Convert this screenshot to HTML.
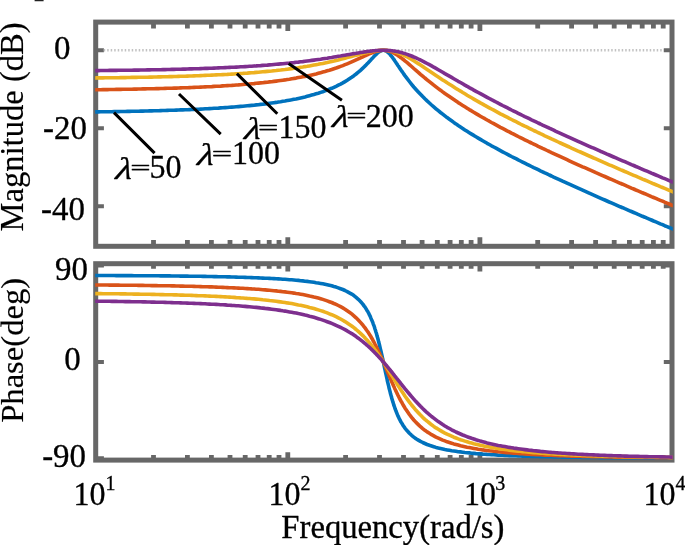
<!DOCTYPE html>
<html lang="en"><head><meta charset="utf-8"><title>Bode diagram</title>
<style>
html,body{margin:0;padding:0;background:#fff;}
body{width:685px;height:545px;overflow:hidden;}
svg{display:block;will-change:transform;}
.t{font-family:"Liberation Serif","DejaVu Serif",serif;font-size:32px;fill:#000;stroke:#000;stroke-width:0.32px;stroke-linejoin:round;}
.t .e{stroke-width:0.6px;}
.t .r{stroke-width:0.15px;}
.t .i{font-style:italic;}
.t .s{font-size:20px;}
</style></head><body>
<svg width="685" height="545" viewBox="0 0 685 545">
<defs><clipPath id="cm"><rect x="95.2" y="22.1" width="577.6" height="224.2"/></clipPath>
<clipPath id="cp"><rect x="95.2" y="263.7" width="577.6" height="196.9"/></clipPath></defs>
<path d="M153.5,22.1 v6.3 M153.5,246.3 v-6.3 M187.4,22.1 v6.3 M187.4,246.3 v-6.3 M211.4,22.1 v6.3 M211.4,246.3 v-6.3 M230.0,22.1 v6.3 M230.0,246.3 v-6.3 M245.2,22.1 v6.3 M245.2,246.3 v-6.3 M258.0,22.1 v6.3 M258.0,246.3 v-6.3 M269.2,22.1 v6.3 M269.2,246.3 v-6.3 M279.0,22.1 v6.3 M279.0,246.3 v-6.3 M287.8,22.1 v9.0 M287.8,246.3 v-9.0 M345.6,22.1 v6.3 M345.6,246.3 v-6.3 M379.5,22.1 v6.3 M379.5,246.3 v-6.3 M403.5,22.1 v6.3 M403.5,246.3 v-6.3 M422.1,22.1 v6.3 M422.1,246.3 v-6.3 M437.3,22.1 v6.3 M437.3,246.3 v-6.3 M450.1,22.1 v6.3 M450.1,246.3 v-6.3 M461.3,22.1 v6.3 M461.3,246.3 v-6.3 M471.1,22.1 v6.3 M471.1,246.3 v-6.3 M479.9,22.1 v9.0 M479.9,246.3 v-9.0 M537.7,22.1 v6.3 M537.7,246.3 v-6.3 M571.6,22.1 v6.3 M571.6,246.3 v-6.3 M595.6,22.1 v6.3 M595.6,246.3 v-6.3 M614.2,22.1 v6.3 M614.2,246.3 v-6.3 M629.4,22.1 v6.3 M629.4,246.3 v-6.3 M642.2,22.1 v6.3 M642.2,246.3 v-6.3 M653.4,22.1 v6.3 M653.4,246.3 v-6.3 M663.2,22.1 v6.3 M663.2,246.3 v-6.3" stroke="#676767" stroke-width="4.8" fill="none"/>
<path d="M153.5,263.7 v5.0 M153.5,460.1 v-5.0 M187.4,263.7 v5.0 M187.4,460.1 v-5.0 M211.4,263.7 v5.0 M211.4,460.1 v-5.0 M230.0,263.7 v5.0 M230.0,460.1 v-5.0 M245.2,263.7 v5.0 M245.2,460.1 v-5.0 M258.0,263.7 v5.0 M258.0,460.1 v-5.0 M269.2,263.7 v5.0 M269.2,460.1 v-5.0 M279.0,263.7 v5.0 M279.0,460.1 v-5.0 M287.8,263.7 v7.8 M287.8,460.1 v-7.8 M345.6,263.7 v5.0 M345.6,460.1 v-5.0 M379.5,263.7 v5.0 M379.5,460.1 v-5.0 M403.5,263.7 v5.0 M403.5,460.1 v-5.0 M422.1,263.7 v5.0 M422.1,460.1 v-5.0 M437.3,263.7 v5.0 M437.3,460.1 v-5.0 M450.1,263.7 v5.0 M450.1,460.1 v-5.0 M461.3,263.7 v5.0 M461.3,460.1 v-5.0 M471.1,263.7 v5.0 M471.1,460.1 v-5.0 M479.9,263.7 v7.8 M479.9,460.1 v-7.8 M537.7,263.7 v5.0 M537.7,460.1 v-5.0 M571.6,263.7 v5.0 M571.6,460.1 v-5.0 M595.6,263.7 v5.0 M595.6,460.1 v-5.0 M614.2,263.7 v5.0 M614.2,460.1 v-5.0 M629.4,263.7 v5.0 M629.4,460.1 v-5.0 M642.2,263.7 v5.0 M642.2,460.1 v-5.0 M653.4,263.7 v5.0 M653.4,460.1 v-5.0 M663.2,263.7 v5.0 M663.2,460.1 v-5.0" stroke="#676767" stroke-width="4.8" fill="none"/>
<path d="M95.7,50.3 h8.2 M672.0,50.3 h-8.2 M95.7,128.3 h8.2 M672.0,128.3 h-8.2 M95.7,206.3 h8.2 M672.0,206.3 h-8.2 M95.7,265.5 h8.2 M672.0,265.5 h-8.2 M95.7,361.9 h8.2 M672.0,361.9 h-8.2 M95.7,458.3 h8.2 M672.0,458.3 h-8.2" stroke="#676767" stroke-width="4" fill="none"/>
<path d="M103.7,50.3 H664.0" stroke="#c2c2c2" stroke-width="2.6" stroke-dasharray="1.5 2" fill="none"/>
<rect x="95.7" y="22.1" width="576.3" height="224.2" fill="none" stroke="#676767" stroke-width="5.0"/>
<rect x="95.7" y="263.7" width="576.3" height="196.4" fill="none" stroke="#676767" stroke-width="5.0"/>
<g clip-path="url(#cm)" fill="none" stroke-width="3.6" stroke-linejoin="round">
<path d="M91.9,112.0 L94.1,111.9 L96.3,111.9 L98.5,111.9 L100.7,111.8 L103.0,111.8 L105.2,111.8 L107.4,111.8 L109.6,111.7 L111.8,111.7 L114.1,111.6 L116.3,111.6 L118.5,111.6 L120.7,111.5 L122.9,111.5 L125.2,111.5 L127.4,111.4 L129.6,111.4 L131.8,111.3 L134.0,111.3 L136.3,111.2 L138.5,111.2 L140.7,111.1 L142.9,111.1 L145.1,111.0 L147.4,111.0 L149.6,110.9 L151.8,110.9 L154.0,110.8 L156.3,110.7 L158.5,110.7 L160.7,110.6 L162.9,110.5 L165.1,110.5 L167.4,110.4 L169.6,110.3 L171.8,110.3 L174.0,110.2 L176.2,110.1 L178.5,110.0 L180.7,109.9 L182.9,109.9 L185.1,109.8 L187.3,109.7 L189.6,109.6 L191.8,109.5 L194.0,109.4 L196.2,109.3 L198.4,109.2 L200.7,109.1 L202.9,109.0 L205.1,108.8 L207.3,108.7 L209.5,108.6 L211.8,108.5 L214.0,108.3 L216.2,108.2 L218.4,108.1 L220.6,107.9 L222.9,107.8 L225.1,107.6 L227.3,107.5 L229.5,107.3 L231.7,107.1 L234.0,107.0 L236.2,106.8 L238.4,106.6 L240.6,106.4 L242.9,106.2 L245.1,106.0 L247.3,105.8 L249.5,105.6 L251.7,105.4 L254.0,105.2 L256.2,104.9 L258.4,104.7 L260.6,104.4 L262.8,104.2 L265.1,103.9 L267.3,103.6 L269.5,103.3 L271.7,103.0 L273.9,102.7 L276.2,102.4 L278.4,102.0 L280.6,101.7 L282.8,101.3 L285.0,101.0 L287.3,100.6 L289.5,100.2 L291.7,99.8 L293.9,99.3 L296.1,98.9 L298.4,98.4 L300.6,97.9 L302.8,97.4 L305.0,96.9 L307.2,96.3 L309.5,95.7 L311.7,95.1 L313.9,94.5 L316.1,93.8 L318.3,93.2 L320.6,92.4 L322.8,91.7 L325.0,90.9 L327.2,90.1 L329.4,89.2 L331.7,88.3 L333.9,87.3 L336.1,86.3 L338.3,85.2 L340.6,84.1 L342.8,82.9 L345.0,81.6 L347.2,80.3 L349.4,78.8 L351.7,77.3 L353.9,75.7 L356.1,74.0 L358.3,72.2 L360.5,70.3 L362.8,68.2 L364.2,66.8 L364.9,66.2 L365.0,66.1 L365.5,65.5 L366.1,64.9 L366.7,64.3 L367.2,63.8 L367.4,63.6 L368.0,63.0 L368.6,62.3 L369.2,61.7 L369.4,61.4 L369.8,61.0 L370.4,60.4 L370.9,59.8 L371.5,59.1 L371.6,59.0 L372.1,58.5 L372.7,57.9 L373.2,57.3 L373.8,56.7 L373.9,56.6 L374.4,56.1 L374.9,55.5 L375.5,54.9 L376.0,54.4 L376.1,54.4 L376.6,53.9 L377.1,53.4 L377.7,52.9 L378.2,52.5 L378.3,52.4 L378.7,52.1 L379.3,51.7 L379.8,51.4 L380.3,51.1 L380.5,51.0 L380.9,50.9 L381.4,50.6 L381.9,50.5 L382.4,50.4 L382.7,50.3 L382.9,50.3 L383.4,50.3 L383.9,50.3 L384.4,50.4 L384.9,50.5 L385.0,50.6 L385.4,50.7 L385.9,51.0 L386.4,51.2 L386.9,51.5 L387.2,51.8 L387.3,51.9 L387.8,52.3 L388.3,52.7 L388.8,53.1 L389.2,53.6 L389.4,53.8 L389.7,54.1 L390.2,54.6 L390.6,55.2 L391.1,55.7 L391.6,56.3 L391.6,56.4 L392.0,56.9 L392.5,57.5 L392.9,58.1 L393.4,58.8 L393.8,59.4 L393.8,59.4 L394.3,60.0 L394.7,60.7 L395.1,61.3 L395.6,62.0 L396.0,62.6 L396.1,62.7 L396.4,63.2 L396.9,63.9 L397.3,64.5 L397.7,65.2 L398.1,65.8 L398.3,66.0 L398.6,66.4 L399.0,67.0 L399.4,67.7 L399.8,68.3 L400.2,68.9 L400.5,69.3 L400.6,69.5 L401.0,70.1 L401.5,70.7 L401.9,71.3 L402.3,71.9 L402.7,72.4 L402.7,72.5 L403.1,73.0 L403.5,73.6 L404.9,75.6 L407.2,78.6 L409.4,81.5 L411.6,84.3 L413.8,87.0 L416.0,89.5 L418.3,92.0 L420.5,94.3 L422.7,96.6 L424.9,98.8 L427.1,100.9 L429.4,103.0 L431.6,105.0 L433.8,106.9 L436.0,108.8 L438.3,110.7 L440.5,112.5 L442.7,114.2 L444.9,115.9 L447.1,117.6 L449.4,119.2 L451.6,120.8 L453.8,122.4 L456.0,123.9 L458.2,125.5 L460.5,127.0 L462.7,128.4 L464.9,129.9 L467.1,131.3 L469.3,132.7 L471.6,134.1 L473.8,135.4 L476.0,136.8 L478.2,138.1 L480.4,139.4 L482.7,140.7 L484.9,142.0 L487.1,143.3 L489.3,144.5 L491.5,145.8 L493.8,147.0 L496.0,148.2 L498.2,149.4 L500.4,150.6 L502.6,151.8 L504.9,153.0 L507.1,154.1 L509.3,155.3 L511.5,156.5 L513.7,157.6 L516.0,158.7 L518.2,159.9 L520.4,161.0 L522.6,162.1 L524.8,163.2 L527.1,164.3 L529.3,165.4 L531.5,166.5 L533.7,167.6 L536.0,168.6 L538.2,169.7 L540.4,170.8 L542.6,171.8 L544.8,172.9 L547.1,173.9 L549.3,175.0 L551.5,176.0 L553.7,177.1 L555.9,178.1 L558.2,179.1 L560.4,180.1 L562.6,181.2 L564.8,182.2 L567.0,183.2 L569.3,184.2 L571.5,185.2 L573.7,186.2 L575.9,187.2 L578.1,188.2 L580.4,189.2 L582.6,190.2 L584.8,191.2 L587.0,192.2 L589.2,193.2 L591.5,194.2 L593.7,195.1 L595.9,196.1 L598.1,197.1 L600.3,198.1 L602.6,199.1 L604.8,200.0 L607.0,201.0 L609.2,202.0 L611.4,202.9 L613.7,203.9 L615.9,204.8 L618.1,205.8 L620.3,206.8 L622.6,207.7 L624.8,208.7 L627.0,209.6 L629.2,210.6 L631.4,211.5 L633.7,212.5 L635.9,213.4 L638.1,214.4 L640.3,215.3 L642.5,216.3 L644.8,217.2 L647.0,218.2 L649.2,219.1 L651.4,220.0 L653.6,221.0 L655.9,221.9 L658.1,222.8 L660.3,223.8 L662.5,224.7 L664.7,225.7 L667.0,226.6 L669.2,227.5 L671.4,228.4 L673.6,229.4 L675.8,230.3" stroke="#0072BD"/>
<path d="M91.9,89.8 L94.1,89.7 L96.3,89.7 L98.5,89.7 L100.7,89.7 L103.0,89.6 L105.2,89.6 L107.4,89.6 L109.6,89.5 L111.8,89.5 L114.1,89.5 L116.3,89.4 L118.5,89.4 L120.7,89.4 L122.9,89.3 L125.2,89.3 L127.4,89.3 L129.6,89.2 L131.8,89.2 L134.0,89.1 L136.3,89.1 L138.5,89.0 L140.7,89.0 L142.9,88.9 L145.1,88.9 L147.4,88.8 L149.6,88.8 L151.8,88.7 L154.0,88.7 L156.3,88.6 L158.5,88.6 L160.7,88.5 L162.9,88.5 L165.1,88.4 L167.4,88.3 L169.6,88.3 L171.8,88.2 L174.0,88.1 L176.2,88.1 L178.5,88.0 L180.7,87.9 L182.9,87.8 L185.1,87.7 L187.3,87.7 L189.6,87.6 L191.8,87.5 L194.0,87.4 L196.2,87.3 L198.4,87.2 L200.7,87.1 L202.9,87.0 L205.1,86.9 L207.3,86.8 L209.5,86.7 L211.8,86.6 L214.0,86.4 L216.2,86.3 L218.4,86.2 L220.6,86.1 L222.9,85.9 L225.1,85.8 L227.3,85.6 L229.5,85.5 L231.7,85.4 L234.0,85.2 L236.2,85.0 L238.4,84.9 L240.6,84.7 L242.9,84.5 L245.1,84.3 L247.3,84.2 L249.5,84.0 L251.7,83.8 L254.0,83.6 L256.2,83.3 L258.4,83.1 L260.6,82.9 L262.8,82.7 L265.1,82.4 L267.3,82.2 L269.5,81.9 L271.7,81.7 L273.9,81.4 L276.2,81.1 L278.4,80.8 L280.6,80.5 L282.8,80.2 L285.0,79.9 L287.3,79.5 L289.5,79.2 L291.7,78.8 L293.9,78.4 L296.1,78.1 L298.4,77.6 L300.6,77.2 L302.8,76.8 L305.0,76.4 L307.2,75.9 L309.5,75.4 L311.7,74.9 L313.9,74.4 L316.1,73.9 L318.3,73.3 L320.6,72.7 L322.8,72.1 L325.0,71.5 L327.2,70.8 L329.4,70.2 L331.7,69.5 L333.9,68.7 L336.1,68.0 L338.3,67.2 L340.6,66.4 L342.8,65.6 L345.0,64.7 L347.2,63.8 L349.4,62.9 L351.7,61.9 L353.9,60.9 L356.1,59.9 L358.3,58.9 L360.5,57.9 L362.8,56.8 L364.2,56.1 L364.9,55.8 L365.0,55.8 L365.5,55.6 L366.1,55.3 L366.7,55.0 L367.2,54.8 L367.4,54.7 L368.0,54.5 L368.6,54.2 L369.2,53.9 L369.4,53.8 L369.8,53.7 L370.4,53.4 L370.9,53.2 L371.5,53.0 L371.6,52.9 L372.1,52.8 L372.7,52.5 L373.2,52.3 L373.8,52.1 L373.9,52.1 L374.4,51.9 L374.9,51.8 L375.5,51.6 L376.0,51.4 L376.1,51.4 L376.6,51.3 L377.1,51.1 L377.7,51.0 L378.2,50.9 L378.3,50.9 L378.7,50.8 L379.3,50.7 L379.8,50.6 L380.3,50.5 L380.5,50.5 L380.9,50.4 L381.4,50.4 L381.9,50.3 L382.4,50.3 L382.7,50.3 L382.9,50.3 L383.4,50.3 L383.9,50.3 L384.4,50.3 L384.9,50.4 L385.0,50.4 L385.4,50.4 L385.9,50.5 L386.4,50.5 L386.9,50.6 L387.2,50.7 L387.3,50.7 L387.8,50.8 L388.3,50.9 L388.8,51.1 L389.2,51.2 L389.4,51.2 L389.7,51.3 L390.2,51.5 L390.6,51.7 L391.1,51.8 L391.6,52.0 L391.6,52.0 L392.0,52.2 L392.5,52.4 L392.9,52.6 L393.4,52.8 L393.8,53.1 L393.8,53.1 L394.3,53.3 L394.7,53.5 L395.1,53.8 L395.6,54.0 L396.0,54.3 L396.1,54.3 L396.4,54.6 L396.9,54.8 L397.3,55.1 L397.7,55.4 L398.1,55.7 L398.3,55.8 L398.6,56.0 L399.0,56.3 L399.4,56.6 L399.8,56.9 L400.2,57.2 L400.5,57.4 L400.6,57.5 L401.0,57.8 L401.5,58.1 L401.9,58.4 L402.3,58.7 L402.7,59.0 L402.7,59.1 L403.1,59.3 L403.5,59.7 L404.9,60.9 L407.2,62.7 L409.4,64.6 L411.6,66.5 L413.8,68.5 L416.0,70.4 L418.3,72.3 L420.5,74.3 L422.7,76.1 L424.9,78.0 L427.1,79.8 L429.4,81.6 L431.6,83.4 L433.8,85.2 L436.0,86.9 L438.3,88.6 L440.5,90.2 L442.7,91.9 L444.9,93.5 L447.1,95.0 L449.4,96.6 L451.6,98.1 L453.8,99.6 L456.0,101.1 L458.2,102.6 L460.5,104.0 L462.7,105.4 L464.9,106.8 L467.1,108.2 L469.3,109.6 L471.6,110.9 L473.8,112.3 L476.0,113.6 L478.2,114.9 L480.4,116.2 L482.7,117.5 L484.9,118.7 L487.1,120.0 L489.3,121.2 L491.5,122.5 L493.8,123.7 L496.0,124.9 L498.2,126.1 L500.4,127.3 L502.6,128.4 L504.9,129.6 L507.1,130.8 L509.3,131.9 L511.5,133.1 L513.7,134.2 L516.0,135.3 L518.2,136.5 L520.4,137.6 L522.6,138.7 L524.8,139.8 L527.1,140.9 L529.3,142.0 L531.5,143.0 L533.7,144.1 L536.0,145.2 L538.2,146.3 L540.4,147.3 L542.6,148.4 L544.8,149.4 L547.1,150.5 L549.3,151.5 L551.5,152.6 L553.7,153.6 L555.9,154.6 L558.2,155.7 L560.4,156.7 L562.6,157.7 L564.8,158.7 L567.0,159.7 L569.3,160.8 L571.5,161.8 L573.7,162.8 L575.9,163.8 L578.1,164.8 L580.4,165.8 L582.6,166.8 L584.8,167.7 L587.0,168.7 L589.2,169.7 L591.5,170.7 L593.7,171.7 L595.9,172.7 L598.1,173.6 L600.3,174.6 L602.6,175.6 L604.8,176.5 L607.0,177.5 L609.2,178.5 L611.4,179.4 L613.7,180.4 L615.9,181.4 L618.1,182.3 L620.3,183.3 L622.6,184.2 L624.8,185.2 L627.0,186.2 L629.2,187.1 L631.4,188.1 L633.7,189.0 L635.9,190.0 L638.1,190.9 L640.3,191.8 L642.5,192.8 L644.8,193.7 L647.0,194.7 L649.2,195.6 L651.4,196.6 L653.6,197.5 L655.9,198.4 L658.1,199.4 L660.3,200.3 L662.5,201.2 L664.7,202.2 L667.0,203.1 L669.2,204.0 L671.4,205.0 L673.6,205.9 L675.8,206.8" stroke="#D95319"/>
<path d="M91.9,78.0 L94.1,78.0 L96.3,77.9 L98.5,77.9 L100.7,77.9 L103.0,77.9 L105.2,77.8 L107.4,77.8 L109.6,77.8 L111.8,77.7 L114.1,77.7 L116.3,77.7 L118.5,77.7 L120.7,77.6 L122.9,77.6 L125.2,77.6 L127.4,77.5 L129.6,77.5 L131.8,77.4 L134.0,77.4 L136.3,77.4 L138.5,77.3 L140.7,77.3 L142.9,77.2 L145.1,77.2 L147.4,77.2 L149.6,77.1 L151.8,77.1 L154.0,77.0 L156.3,77.0 L158.5,76.9 L160.7,76.9 L162.9,76.8 L165.1,76.8 L167.4,76.7 L169.6,76.6 L171.8,76.6 L174.0,76.5 L176.2,76.5 L178.5,76.4 L180.7,76.3 L182.9,76.3 L185.1,76.2 L187.3,76.1 L189.6,76.0 L191.8,76.0 L194.0,75.9 L196.2,75.8 L198.4,75.7 L200.7,75.6 L202.9,75.5 L205.1,75.4 L207.3,75.3 L209.5,75.2 L211.8,75.1 L214.0,75.0 L216.2,74.9 L218.4,74.8 L220.6,74.7 L222.9,74.6 L225.1,74.5 L227.3,74.4 L229.5,74.2 L231.7,74.1 L234.0,74.0 L236.2,73.8 L238.4,73.7 L240.6,73.5 L242.9,73.4 L245.1,73.2 L247.3,73.1 L249.5,72.9 L251.7,72.7 L254.0,72.6 L256.2,72.4 L258.4,72.2 L260.6,72.0 L262.8,71.8 L265.1,71.6 L267.3,71.4 L269.5,71.2 L271.7,71.0 L273.9,70.7 L276.2,70.5 L278.4,70.2 L280.6,70.0 L282.8,69.7 L285.0,69.5 L287.3,69.2 L289.5,68.9 L291.7,68.6 L293.9,68.3 L296.1,68.0 L298.4,67.7 L300.6,67.3 L302.8,67.0 L305.0,66.6 L307.2,66.3 L309.5,65.9 L311.7,65.5 L313.9,65.1 L316.1,64.7 L318.3,64.3 L320.6,63.8 L322.8,63.4 L325.0,62.9 L327.2,62.5 L329.4,62.0 L331.7,61.5 L333.9,61.0 L336.1,60.4 L338.3,59.9 L340.6,59.3 L342.8,58.8 L345.0,58.2 L347.2,57.6 L349.4,57.0 L351.7,56.4 L353.9,55.8 L356.1,55.3 L358.3,54.7 L360.5,54.1 L362.8,53.5 L364.2,53.1 L364.9,53.0 L365.0,53.0 L365.5,52.8 L366.1,52.7 L366.7,52.6 L367.2,52.4 L367.4,52.4 L368.0,52.3 L368.6,52.1 L369.2,52.0 L369.4,52.0 L369.8,51.9 L370.4,51.8 L370.9,51.7 L371.5,51.5 L371.6,51.5 L372.1,51.4 L372.7,51.3 L373.2,51.2 L373.8,51.1 L373.9,51.1 L374.4,51.0 L374.9,51.0 L375.5,50.9 L376.0,50.8 L376.1,50.8 L376.6,50.7 L377.1,50.7 L377.7,50.6 L378.2,50.6 L378.3,50.5 L378.7,50.5 L379.3,50.5 L379.8,50.4 L380.3,50.4 L380.5,50.4 L380.9,50.4 L381.4,50.3 L381.9,50.3 L382.4,50.3 L382.7,50.3 L382.9,50.3 L383.4,50.3 L383.9,50.3 L384.4,50.3 L384.9,50.3 L385.0,50.3 L385.4,50.3 L385.9,50.4 L386.4,50.4 L386.9,50.4 L387.2,50.5 L387.3,50.5 L387.8,50.5 L388.3,50.6 L388.8,50.6 L389.2,50.7 L389.4,50.7 L389.7,50.8 L390.2,50.8 L390.6,50.9 L391.1,51.0 L391.6,51.1 L391.6,51.1 L392.0,51.2 L392.5,51.3 L392.9,51.4 L393.4,51.5 L393.8,51.6 L393.8,51.6 L394.3,51.7 L394.7,51.8 L395.1,51.9 L395.6,52.1 L396.0,52.2 L396.1,52.2 L396.4,52.3 L396.9,52.5 L397.3,52.6 L397.7,52.8 L398.1,52.9 L398.3,53.0 L398.6,53.1 L399.0,53.2 L399.4,53.4 L399.8,53.5 L400.2,53.7 L400.5,53.8 L400.6,53.9 L401.0,54.0 L401.5,54.2 L401.9,54.4 L402.3,54.6 L402.7,54.7 L402.7,54.8 L403.1,54.9 L403.5,55.1 L404.9,55.8 L407.2,57.0 L409.4,58.2 L411.6,59.4 L413.8,60.8 L416.0,62.2 L418.3,63.6 L420.5,65.0 L422.7,66.5 L424.9,68.0 L427.1,69.4 L429.4,70.9 L431.6,72.4 L433.8,73.9 L436.0,75.4 L438.3,76.9 L440.5,78.4 L442.7,79.9 L444.9,81.3 L447.1,82.8 L449.4,84.2 L451.6,85.6 L453.8,87.0 L456.0,88.4 L458.2,89.8 L460.5,91.1 L462.7,92.5 L464.9,93.8 L467.1,95.2 L469.3,96.5 L471.6,97.8 L473.8,99.1 L476.0,100.4 L478.2,101.6 L480.4,102.9 L482.7,104.1 L484.9,105.4 L487.1,106.6 L489.3,107.8 L491.5,109.0 L493.8,110.2 L496.0,111.4 L498.2,112.6 L500.4,113.8 L502.6,114.9 L504.9,116.1 L507.1,117.2 L509.3,118.4 L511.5,119.5 L513.7,120.6 L516.0,121.7 L518.2,122.8 L520.4,124.0 L522.6,125.1 L524.8,126.2 L527.1,127.2 L529.3,128.3 L531.5,129.4 L533.7,130.5 L536.0,131.5 L538.2,132.6 L540.4,133.7 L542.6,134.7 L544.8,135.8 L547.1,136.8 L549.3,137.8 L551.5,138.9 L553.7,139.9 L555.9,140.9 L558.2,142.0 L560.4,143.0 L562.6,144.0 L564.8,145.0 L567.0,146.0 L569.3,147.0 L571.5,148.1 L573.7,149.1 L575.9,150.1 L578.1,151.1 L580.4,152.0 L582.6,153.0 L584.8,154.0 L587.0,155.0 L589.2,156.0 L591.5,157.0 L593.7,158.0 L595.9,158.9 L598.1,159.9 L600.3,160.9 L602.6,161.9 L604.8,162.8 L607.0,163.8 L609.2,164.8 L611.4,165.7 L613.7,166.7 L615.9,167.6 L618.1,168.6 L620.3,169.6 L622.6,170.5 L624.8,171.5 L627.0,172.4 L629.2,173.4 L631.4,174.3 L633.7,175.3 L635.9,176.2 L638.1,177.2 L640.3,178.1 L642.5,179.1 L644.8,180.0 L647.0,180.9 L649.2,181.9 L651.4,182.8 L653.6,183.8 L655.9,184.7 L658.1,185.6 L660.3,186.6 L662.5,187.5 L664.7,188.4 L667.0,189.4 L669.2,190.3 L671.4,191.2 L673.6,192.2 L675.8,193.1" stroke="#EDB120"/>
<path d="M91.9,70.6 L94.1,70.6 L96.3,70.6 L98.5,70.6 L100.7,70.5 L103.0,70.5 L105.2,70.5 L107.4,70.5 L109.6,70.4 L111.8,70.4 L114.1,70.4 L116.3,70.4 L118.5,70.3 L120.7,70.3 L122.9,70.3 L125.2,70.3 L127.4,70.2 L129.6,70.2 L131.8,70.2 L134.0,70.1 L136.3,70.1 L138.5,70.1 L140.7,70.0 L142.9,70.0 L145.1,70.0 L147.4,69.9 L149.6,69.9 L151.8,69.8 L154.0,69.8 L156.3,69.8 L158.5,69.7 L160.7,69.7 L162.9,69.6 L165.1,69.6 L167.4,69.5 L169.6,69.5 L171.8,69.4 L174.0,69.4 L176.2,69.3 L178.5,69.3 L180.7,69.2 L182.9,69.1 L185.1,69.1 L187.3,69.0 L189.6,68.9 L191.8,68.9 L194.0,68.8 L196.2,68.7 L198.4,68.7 L200.7,68.6 L202.9,68.5 L205.1,68.4 L207.3,68.4 L209.5,68.3 L211.8,68.2 L214.0,68.1 L216.2,68.0 L218.4,67.9 L220.6,67.8 L222.9,67.7 L225.1,67.6 L227.3,67.5 L229.5,67.4 L231.7,67.3 L234.0,67.2 L236.2,67.1 L238.4,67.0 L240.6,66.8 L242.9,66.7 L245.1,66.6 L247.3,66.5 L249.5,66.3 L251.7,66.2 L254.0,66.0 L256.2,65.9 L258.4,65.7 L260.6,65.6 L262.8,65.4 L265.1,65.2 L267.3,65.1 L269.5,64.9 L271.7,64.7 L273.9,64.5 L276.2,64.3 L278.4,64.1 L280.6,63.9 L282.8,63.7 L285.0,63.5 L287.3,63.3 L289.5,63.1 L291.7,62.8 L293.9,62.6 L296.1,62.3 L298.4,62.1 L300.6,61.8 L302.8,61.6 L305.0,61.3 L307.2,61.0 L309.5,60.7 L311.7,60.4 L313.9,60.1 L316.1,59.8 L318.3,59.5 L320.6,59.2 L322.8,58.8 L325.0,58.5 L327.2,58.2 L329.4,57.8 L331.7,57.5 L333.9,57.1 L336.1,56.7 L338.3,56.3 L340.6,56.0 L342.8,55.6 L345.0,55.2 L347.2,54.8 L349.4,54.4 L351.7,54.0 L353.9,53.6 L356.1,53.3 L358.3,52.9 L360.5,52.5 L362.8,52.2 L364.2,52.0 L364.9,51.9 L365.0,51.9 L365.5,51.8 L366.1,51.7 L366.7,51.6 L367.2,51.5 L367.4,51.5 L368.0,51.4 L368.6,51.4 L369.2,51.3 L369.4,51.3 L369.8,51.2 L370.4,51.1 L370.9,51.1 L371.5,51.0 L371.6,51.0 L372.1,50.9 L372.7,50.9 L373.2,50.8 L373.8,50.8 L373.9,50.8 L374.4,50.7 L374.9,50.7 L375.5,50.6 L376.0,50.6 L376.1,50.6 L376.6,50.5 L377.1,50.5 L377.7,50.5 L378.2,50.4 L378.3,50.4 L378.7,50.4 L379.3,50.4 L379.8,50.4 L380.3,50.4 L380.5,50.3 L380.9,50.3 L381.4,50.3 L381.9,50.3 L382.4,50.3 L382.7,50.3 L382.9,50.3 L383.4,50.3 L383.9,50.3 L384.4,50.3 L384.9,50.3 L385.0,50.3 L385.4,50.3 L385.9,50.3 L386.4,50.4 L386.9,50.4 L387.2,50.4 L387.3,50.4 L387.8,50.4 L388.3,50.5 L388.8,50.5 L389.2,50.5 L389.4,50.5 L389.7,50.6 L390.2,50.6 L390.6,50.6 L391.1,50.7 L391.6,50.7 L391.6,50.8 L392.0,50.8 L392.5,50.9 L392.9,50.9 L393.4,51.0 L393.8,51.0 L393.8,51.0 L394.3,51.1 L394.7,51.2 L395.1,51.2 L395.6,51.3 L396.0,51.4 L396.1,51.4 L396.4,51.5 L396.9,51.6 L397.3,51.6 L397.7,51.7 L398.1,51.8 L398.3,51.8 L398.6,51.9 L399.0,52.0 L399.4,52.1 L399.8,52.2 L400.2,52.3 L400.5,52.4 L400.6,52.4 L401.0,52.5 L401.5,52.6 L401.9,52.7 L402.3,52.8 L402.7,52.9 L402.7,53.0 L403.1,53.0 L403.5,53.2 L404.9,53.6 L407.2,54.4 L409.4,55.2 L411.6,56.0 L413.8,57.0 L416.0,57.9 L418.3,59.0 L420.5,60.0 L422.7,61.2 L424.9,62.3 L427.1,63.5 L429.4,64.7 L431.6,65.9 L433.8,67.2 L436.0,68.4 L438.3,69.7 L440.5,71.0 L442.7,72.3 L444.9,73.6 L447.1,74.8 L449.4,76.1 L451.6,77.4 L453.8,78.7 L456.0,80.0 L458.2,81.3 L460.5,82.5 L462.7,83.8 L464.9,85.1 L467.1,86.3 L469.3,87.6 L471.6,88.8 L473.8,90.1 L476.0,91.3 L478.2,92.5 L480.4,93.7 L482.7,94.9 L484.9,96.1 L487.1,97.3 L489.3,98.5 L491.5,99.7 L493.8,100.8 L496.0,102.0 L498.2,103.2 L500.4,104.3 L502.6,105.5 L504.9,106.6 L507.1,107.7 L509.3,108.8 L511.5,110.0 L513.7,111.1 L516.0,112.2 L518.2,113.3 L520.4,114.4 L522.6,115.5 L524.8,116.6 L527.1,117.6 L529.3,118.7 L531.5,119.8 L533.7,120.8 L536.0,121.9 L538.2,123.0 L540.4,124.0 L542.6,125.1 L544.8,126.1 L547.1,127.1 L549.3,128.2 L551.5,129.2 L553.7,130.2 L555.9,131.3 L558.2,132.3 L560.4,133.3 L562.6,134.3 L564.8,135.3 L567.0,136.3 L569.3,137.3 L571.5,138.3 L573.7,139.3 L575.9,140.3 L578.1,141.3 L580.4,142.3 L582.6,143.3 L584.8,144.3 L587.0,145.3 L589.2,146.3 L591.5,147.3 L593.7,148.2 L595.9,149.2 L598.1,150.2 L600.3,151.2 L602.6,152.1 L604.8,153.1 L607.0,154.1 L609.2,155.0 L611.4,156.0 L613.7,157.0 L615.9,157.9 L618.1,158.9 L620.3,159.8 L622.6,160.8 L624.8,161.7 L627.0,162.7 L629.2,163.6 L631.4,164.6 L633.7,165.5 L635.9,166.5 L638.1,167.4 L640.3,168.4 L642.5,169.3 L644.8,170.3 L647.0,171.2 L649.2,172.1 L651.4,173.1 L653.6,174.0 L655.9,175.0 L658.1,175.9 L660.3,176.8 L662.5,177.8 L664.7,178.7 L667.0,179.6 L669.2,180.6 L671.4,181.5 L673.6,182.4 L675.8,183.4" stroke="#7E2F8E"/>
</g>
<g clip-path="url(#cp)" fill="none" stroke-width="3.6" stroke-linejoin="round">
<path d="M91.9,275.4 L94.1,275.5 L96.3,275.5 L98.5,275.5 L100.7,275.5 L103.0,275.5 L105.2,275.5 L107.4,275.5 L109.6,275.5 L111.8,275.5 L114.1,275.5 L116.3,275.6 L118.5,275.6 L120.7,275.6 L122.9,275.6 L125.2,275.6 L127.4,275.6 L129.6,275.6 L131.8,275.6 L134.0,275.7 L136.3,275.7 L138.5,275.7 L140.7,275.7 L142.9,275.7 L145.1,275.7 L147.4,275.7 L149.6,275.8 L151.8,275.8 L154.0,275.8 L156.3,275.8 L158.5,275.8 L160.7,275.9 L162.9,275.9 L165.1,275.9 L167.4,275.9 L169.6,275.9 L171.8,276.0 L174.0,276.0 L176.2,276.0 L178.5,276.0 L180.7,276.1 L182.9,276.1 L185.1,276.1 L187.3,276.1 L189.6,276.2 L191.8,276.2 L194.0,276.2 L196.2,276.3 L198.4,276.3 L200.7,276.3 L202.9,276.4 L205.1,276.4 L207.3,276.5 L209.5,276.5 L211.8,276.5 L214.0,276.6 L216.2,276.6 L218.4,276.7 L220.6,276.7 L222.9,276.8 L225.1,276.8 L227.3,276.9 L229.5,276.9 L231.7,277.0 L234.0,277.0 L236.2,277.1 L238.4,277.2 L240.6,277.2 L242.9,277.3 L245.1,277.4 L247.3,277.5 L249.5,277.5 L251.7,277.6 L254.0,277.7 L256.2,277.8 L258.4,277.9 L260.6,278.0 L262.8,278.1 L265.1,278.2 L267.3,278.3 L269.5,278.4 L271.7,278.5 L273.9,278.6 L276.2,278.8 L278.4,278.9 L280.6,279.0 L282.8,279.2 L285.0,279.3 L287.3,279.5 L289.5,279.7 L291.7,279.8 L293.9,280.0 L296.1,280.2 L298.4,280.4 L300.6,280.7 L302.8,280.9 L305.0,281.2 L307.2,281.4 L309.5,281.7 L311.7,282.0 L313.9,282.3 L316.1,282.7 L318.3,283.0 L320.6,283.4 L322.8,283.8 L325.0,284.3 L327.2,284.8 L329.4,285.3 L331.7,285.8 L333.9,286.5 L336.1,287.1 L338.3,287.9 L340.6,288.7 L342.8,289.5 L345.0,290.5 L347.2,291.6 L349.4,292.8 L351.7,294.1 L353.9,295.6 L356.1,297.4 L358.3,299.3 L360.5,301.5 L362.8,304.1 L364.2,306.1 L364.9,307.0 L365.0,307.1 L365.5,307.9 L366.1,308.9 L366.7,309.9 L367.2,310.7 L367.4,310.9 L368.0,312.0 L368.6,313.1 L369.2,314.3 L369.4,314.8 L369.8,315.5 L370.4,316.8 L370.9,318.1 L371.5,319.5 L371.6,319.7 L372.1,320.9 L372.7,322.3 L373.2,323.8 L373.8,325.4 L373.9,325.5 L374.4,327.0 L374.9,328.7 L375.5,330.5 L376.0,332.3 L376.1,332.4 L376.6,334.1 L377.1,336.1 L377.7,338.0 L378.2,340.0 L378.3,340.4 L378.7,342.1 L379.3,344.2 L379.8,346.4 L380.3,348.6 L380.5,349.4 L380.9,350.9 L381.4,353.1 L381.9,355.4 L382.4,357.7 L382.7,359.3 L382.9,360.1 L383.4,362.4 L383.9,364.7 L384.4,367.0 L384.9,369.3 L385.0,369.6 L385.4,371.6 L385.9,373.9 L386.4,376.1 L386.9,378.3 L387.2,379.7 L387.3,380.5 L387.8,382.6 L388.3,384.6 L388.8,386.6 L389.2,388.6 L389.4,389.2 L389.7,390.4 L390.2,392.3 L390.6,394.1 L391.1,395.8 L391.6,397.4 L391.6,397.7 L392.0,399.0 L392.5,400.6 L392.9,402.1 L393.4,403.5 L393.8,404.9 L393.8,405.0 L394.3,406.3 L394.7,407.5 L395.1,408.8 L395.6,410.0 L396.0,411.1 L396.1,411.3 L396.4,412.2 L396.9,413.3 L397.3,414.3 L397.7,415.3 L398.1,416.3 L398.3,416.6 L398.6,417.2 L399.0,418.1 L399.4,418.9 L399.8,419.7 L400.2,420.5 L400.5,421.0 L400.6,421.3 L401.0,422.0 L401.5,422.7 L401.9,423.4 L402.3,424.1 L402.7,424.7 L402.7,424.8 L403.1,425.4 L403.5,426.0 L404.9,428.1 L407.2,430.8 L409.4,433.2 L411.6,435.3 L413.8,437.1 L416.0,438.7 L418.3,440.1 L420.5,441.4 L422.7,442.5 L424.9,443.5 L427.1,444.5 L429.4,445.3 L431.6,446.0 L433.8,446.7 L436.0,447.4 L438.3,448.0 L440.5,448.5 L442.7,449.0 L444.9,449.5 L447.1,449.9 L449.4,450.3 L451.6,450.7 L453.8,451.0 L456.0,451.3 L458.2,451.7 L460.5,451.9 L462.7,452.2 L464.9,452.5 L467.1,452.7 L469.3,452.9 L471.6,453.2 L473.8,453.4 L476.0,453.6 L478.2,453.7 L480.4,453.9 L482.7,454.1 L484.9,454.2 L487.1,454.4 L489.3,454.5 L491.5,454.7 L493.8,454.8 L496.0,454.9 L498.2,455.1 L500.4,455.2 L502.6,455.3 L504.9,455.4 L507.1,455.5 L509.3,455.6 L511.5,455.7 L513.7,455.8 L516.0,455.8 L518.2,455.9 L520.4,456.0 L522.6,456.1 L524.8,456.2 L527.1,456.2 L529.3,456.3 L531.5,456.4 L533.7,456.4 L536.0,456.5 L538.2,456.5 L540.4,456.6 L542.6,456.6 L544.8,456.7 L547.1,456.7 L549.3,456.8 L551.5,456.8 L553.7,456.9 L555.9,456.9 L558.2,457.0 L560.4,457.0 L562.6,457.1 L564.8,457.1 L567.0,457.1 L569.3,457.2 L571.5,457.2 L573.7,457.2 L575.9,457.3 L578.1,457.3 L580.4,457.3 L582.6,457.4 L584.8,457.4 L587.0,457.4 L589.2,457.4 L591.5,457.5 L593.7,457.5 L595.9,457.5 L598.1,457.5 L600.3,457.6 L602.6,457.6 L604.8,457.6 L607.0,457.6 L609.2,457.6 L611.4,457.7 L613.7,457.7 L615.9,457.7 L618.1,457.7 L620.3,457.7 L622.6,457.8 L624.8,457.8 L627.0,457.8 L629.2,457.8 L631.4,457.8 L633.7,457.8 L635.9,457.8 L638.1,457.9 L640.3,457.9 L642.5,457.9 L644.8,457.9 L647.0,457.9 L649.2,457.9 L651.4,457.9 L653.6,457.9 L655.9,458.0 L658.1,458.0 L660.3,458.0 L662.5,458.0 L664.7,458.0 L667.0,458.0 L669.2,458.0 L671.4,458.0 L673.6,458.0 L675.8,458.0" stroke="#0072BD"/>
<path d="M91.9,284.9 L94.1,284.9 L96.3,285.0 L98.5,285.0 L100.7,285.0 L103.0,285.0 L105.2,285.0 L107.4,285.0 L109.6,285.1 L111.8,285.1 L114.1,285.1 L116.3,285.1 L118.5,285.1 L120.7,285.2 L122.9,285.2 L125.2,285.2 L127.4,285.2 L129.6,285.3 L131.8,285.3 L134.0,285.3 L136.3,285.3 L138.5,285.4 L140.7,285.4 L142.9,285.4 L145.1,285.5 L147.4,285.5 L149.6,285.5 L151.8,285.6 L154.0,285.6 L156.3,285.6 L158.5,285.7 L160.7,285.7 L162.9,285.7 L165.1,285.8 L167.4,285.8 L169.6,285.8 L171.8,285.9 L174.0,285.9 L176.2,286.0 L178.5,286.0 L180.7,286.1 L182.9,286.1 L185.1,286.2 L187.3,286.2 L189.6,286.3 L191.8,286.3 L194.0,286.4 L196.2,286.5 L198.4,286.5 L200.7,286.6 L202.9,286.7 L205.1,286.7 L207.3,286.8 L209.5,286.9 L211.8,286.9 L214.0,287.0 L216.2,287.1 L218.4,287.2 L220.6,287.3 L222.9,287.4 L225.1,287.5 L227.3,287.6 L229.5,287.7 L231.7,287.8 L234.0,287.9 L236.2,288.0 L238.4,288.1 L240.6,288.2 L242.9,288.3 L245.1,288.5 L247.3,288.6 L249.5,288.7 L251.7,288.9 L254.0,289.0 L256.2,289.2 L258.4,289.3 L260.6,289.5 L262.8,289.7 L265.1,289.9 L267.3,290.1 L269.5,290.3 L271.7,290.5 L273.9,290.7 L276.2,290.9 L278.4,291.2 L280.6,291.4 L282.8,291.7 L285.0,291.9 L287.3,292.2 L289.5,292.5 L291.7,292.8 L293.9,293.1 L296.1,293.5 L298.4,293.8 L300.6,294.2 L302.8,294.6 L305.0,295.0 L307.2,295.5 L309.5,296.0 L311.7,296.4 L313.9,297.0 L316.1,297.5 L318.3,298.1 L320.6,298.7 L322.8,299.4 L325.0,300.1 L327.2,300.9 L329.4,301.7 L331.7,302.5 L333.9,303.5 L336.1,304.4 L338.3,305.5 L340.6,306.7 L342.8,307.9 L345.0,309.2 L347.2,310.7 L349.4,312.2 L351.7,313.9 L353.9,315.8 L356.1,317.8 L358.3,320.0 L360.5,322.4 L362.8,325.0 L364.2,326.9 L364.9,327.7 L365.0,327.8 L365.5,328.6 L366.1,329.4 L366.7,330.3 L367.2,331.0 L367.4,331.2 L368.0,332.1 L368.6,333.0 L369.2,333.9 L369.4,334.3 L369.8,334.9 L370.4,335.8 L370.9,336.8 L371.5,337.8 L371.6,338.0 L372.1,338.8 L372.7,339.8 L373.2,340.9 L373.8,341.9 L373.9,342.0 L374.4,343.0 L374.9,344.0 L375.5,345.1 L376.0,346.2 L376.1,346.2 L376.6,347.3 L377.1,348.4 L377.7,349.5 L378.2,350.6 L378.3,350.8 L378.7,351.7 L379.3,352.9 L379.8,354.0 L380.3,355.2 L380.5,355.6 L380.9,356.3 L381.4,357.5 L381.9,358.6 L382.4,359.8 L382.7,360.6 L382.9,361.0 L383.4,362.1 L383.9,363.3 L384.4,364.5 L384.9,365.6 L385.0,365.8 L385.4,366.8 L385.9,368.0 L386.4,369.1 L386.9,370.3 L387.2,371.0 L387.3,371.4 L387.8,372.5 L388.3,373.7 L388.8,374.8 L389.2,375.9 L389.4,376.3 L389.7,377.0 L390.2,378.1 L390.6,379.2 L391.1,380.2 L391.6,381.3 L391.6,381.4 L392.0,382.3 L392.5,383.4 L392.9,384.4 L393.4,385.4 L393.8,386.4 L393.8,386.5 L394.3,387.4 L394.7,388.4 L395.1,389.3 L395.6,390.3 L396.0,391.2 L396.1,391.3 L396.4,392.1 L396.9,393.0 L397.3,393.9 L397.7,394.7 L398.1,395.6 L398.3,395.9 L398.6,396.4 L399.0,397.3 L399.4,398.1 L399.8,398.9 L400.2,399.7 L400.5,400.2 L400.6,400.4 L401.0,401.2 L401.5,401.9 L401.9,402.7 L402.3,403.4 L402.7,404.1 L402.7,404.2 L403.1,404.8 L403.5,405.5 L404.9,407.9 L407.2,411.3 L409.4,414.5 L411.6,417.4 L413.8,420.0 L416.0,422.4 L418.3,424.6 L420.5,426.7 L422.7,428.6 L424.9,430.3 L427.1,431.9 L429.4,433.3 L431.6,434.7 L433.8,435.9 L436.0,437.1 L438.3,438.1 L440.5,439.1 L442.7,440.1 L444.9,440.9 L447.1,441.8 L449.4,442.5 L451.6,443.2 L453.8,443.9 L456.0,444.5 L458.2,445.1 L460.5,445.7 L462.7,446.2 L464.9,446.7 L467.1,447.2 L469.3,447.6 L471.6,448.0 L473.8,448.4 L476.0,448.8 L478.2,449.2 L480.4,449.5 L482.7,449.9 L484.9,450.2 L487.1,450.5 L489.3,450.8 L491.5,451.0 L493.8,451.3 L496.0,451.5 L498.2,451.8 L500.4,452.0 L502.6,452.2 L504.9,452.4 L507.1,452.6 L509.3,452.8 L511.5,453.0 L513.7,453.2 L516.0,453.3 L518.2,453.5 L520.4,453.7 L522.6,453.8 L524.8,454.0 L527.1,454.1 L529.3,454.2 L531.5,454.4 L533.7,454.5 L536.0,454.6 L538.2,454.7 L540.4,454.8 L542.6,454.9 L544.8,455.1 L547.1,455.2 L549.3,455.2 L551.5,455.3 L553.7,455.4 L555.9,455.5 L558.2,455.6 L560.4,455.7 L562.6,455.8 L564.8,455.8 L567.0,455.9 L569.3,456.0 L571.5,456.1 L573.7,456.1 L575.9,456.2 L578.1,456.3 L580.4,456.3 L582.6,456.4 L584.8,456.4 L587.0,456.5 L589.2,456.5 L591.5,456.6 L593.7,456.6 L595.9,456.7 L598.1,456.7 L600.3,456.8 L602.6,456.8 L604.8,456.9 L607.0,456.9 L609.2,456.9 L611.4,457.0 L613.7,457.0 L615.9,457.1 L618.1,457.1 L620.3,457.1 L622.6,457.2 L624.8,457.2 L627.0,457.2 L629.2,457.3 L631.4,457.3 L633.7,457.3 L635.9,457.3 L638.1,457.4 L640.3,457.4 L642.5,457.4 L644.8,457.5 L647.0,457.5 L649.2,457.5 L651.4,457.5 L653.6,457.5 L655.9,457.6 L658.1,457.6 L660.3,457.6 L662.5,457.6 L664.7,457.7 L667.0,457.7 L669.2,457.7 L671.4,457.7 L673.6,457.7 L675.8,457.7" stroke="#D95319"/>
<path d="M91.9,293.6 L94.1,293.6 L96.3,293.6 L98.5,293.6 L100.7,293.6 L103.0,293.7 L105.2,293.7 L107.4,293.7 L109.6,293.7 L111.8,293.8 L114.1,293.8 L116.3,293.8 L118.5,293.8 L120.7,293.9 L122.9,293.9 L125.2,293.9 L127.4,294.0 L129.6,294.0 L131.8,294.0 L134.0,294.1 L136.3,294.1 L138.5,294.1 L140.7,294.2 L142.9,294.2 L145.1,294.2 L147.4,294.3 L149.6,294.3 L151.8,294.4 L154.0,294.4 L156.3,294.5 L158.5,294.5 L160.7,294.6 L162.9,294.6 L165.1,294.7 L167.4,294.7 L169.6,294.8 L171.8,294.8 L174.0,294.9 L176.2,294.9 L178.5,295.0 L180.7,295.1 L182.9,295.1 L185.1,295.2 L187.3,295.3 L189.6,295.3 L191.8,295.4 L194.0,295.5 L196.2,295.6 L198.4,295.7 L200.7,295.7 L202.9,295.8 L205.1,295.9 L207.3,296.0 L209.5,296.1 L211.8,296.2 L214.0,296.3 L216.2,296.4 L218.4,296.5 L220.6,296.6 L222.9,296.8 L225.1,296.9 L227.3,297.0 L229.5,297.1 L231.7,297.3 L234.0,297.4 L236.2,297.6 L238.4,297.7 L240.6,297.9 L242.9,298.0 L245.1,298.2 L247.3,298.4 L249.5,298.5 L251.7,298.7 L254.0,298.9 L256.2,299.1 L258.4,299.3 L260.6,299.5 L262.8,299.8 L265.1,300.0 L267.3,300.2 L269.5,300.5 L271.7,300.7 L273.9,301.0 L276.2,301.3 L278.4,301.6 L280.6,301.9 L282.8,302.2 L285.0,302.5 L287.3,302.9 L289.5,303.2 L291.7,303.6 L293.9,304.0 L296.1,304.4 L298.4,304.9 L300.6,305.3 L302.8,305.8 L305.0,306.3 L307.2,306.8 L309.5,307.4 L311.7,307.9 L313.9,308.5 L316.1,309.2 L318.3,309.9 L320.6,310.6 L322.8,311.3 L325.0,312.1 L327.2,312.9 L329.4,313.8 L331.7,314.7 L333.9,315.7 L336.1,316.7 L338.3,317.8 L340.6,319.0 L342.8,320.3 L345.0,321.6 L347.2,323.0 L349.4,324.5 L351.7,326.0 L353.9,327.7 L356.1,329.5 L358.3,331.4 L360.5,333.4 L362.8,335.6 L364.2,337.1 L364.9,337.7 L365.0,337.9 L365.5,338.4 L366.1,339.1 L366.7,339.8 L367.2,340.3 L367.4,340.4 L368.0,341.1 L368.6,341.8 L369.2,342.5 L369.4,342.8 L369.8,343.2 L370.4,343.9 L370.9,344.7 L371.5,345.4 L371.6,345.5 L372.1,346.1 L372.7,346.8 L373.2,347.6 L373.8,348.3 L373.9,348.4 L374.4,349.0 L374.9,349.8 L375.5,350.5 L376.0,351.3 L376.1,351.3 L376.6,352.0 L377.1,352.8 L377.7,353.6 L378.2,354.3 L378.3,354.5 L378.7,355.1 L379.3,355.9 L379.8,356.6 L380.3,357.4 L380.5,357.7 L380.9,358.2 L381.4,359.0 L381.9,359.7 L382.4,360.5 L382.7,361.0 L382.9,361.3 L383.4,362.1 L383.9,362.8 L384.4,363.6 L384.9,364.4 L385.0,364.5 L385.4,365.2 L385.9,365.9 L386.4,366.7 L386.9,367.5 L387.2,368.0 L387.3,368.3 L387.8,369.0 L388.3,369.8 L388.8,370.6 L389.2,371.3 L389.4,371.6 L389.7,372.1 L390.2,372.8 L390.6,373.6 L391.1,374.3 L391.6,375.1 L391.6,375.2 L392.0,375.8 L392.5,376.5 L392.9,377.3 L393.4,378.0 L393.8,378.7 L393.8,378.8 L394.3,379.4 L394.7,380.2 L395.1,380.9 L395.6,381.6 L396.0,382.3 L396.1,382.4 L396.4,383.0 L396.9,383.6 L397.3,384.3 L397.7,385.0 L398.1,385.7 L398.3,385.9 L398.6,386.3 L399.0,387.0 L399.4,387.6 L399.8,388.3 L400.2,388.9 L400.5,389.4 L400.6,389.6 L401.0,390.2 L401.5,390.8 L401.9,391.4 L402.3,392.0 L402.7,392.6 L402.7,392.7 L403.1,393.2 L403.5,393.8 L404.9,396.0 L407.2,399.1 L409.4,402.1 L411.6,405.0 L413.8,407.7 L416.0,410.3 L418.3,412.8 L420.5,415.1 L422.7,417.3 L424.9,419.3 L427.1,421.2 L429.4,423.0 L431.6,424.8 L433.8,426.4 L436.0,427.9 L438.3,429.3 L440.5,430.6 L442.7,431.9 L444.9,433.1 L447.1,434.2 L449.4,435.2 L451.6,436.2 L453.8,437.2 L456.0,438.0 L458.2,438.9 L460.5,439.7 L462.7,440.4 L464.9,441.1 L467.1,441.8 L469.3,442.5 L471.6,443.1 L473.8,443.7 L476.0,444.2 L478.2,444.7 L480.4,445.2 L482.7,445.7 L484.9,446.2 L487.1,446.6 L489.3,447.0 L491.5,447.4 L493.8,447.8 L496.0,448.2 L498.2,448.5 L500.4,448.9 L502.6,449.2 L504.9,449.5 L507.1,449.8 L509.3,450.1 L511.5,450.4 L513.7,450.6 L516.0,450.9 L518.2,451.1 L520.4,451.3 L522.6,451.6 L524.8,451.8 L527.1,452.0 L529.3,452.2 L531.5,452.4 L533.7,452.6 L536.0,452.8 L538.2,452.9 L540.4,453.1 L542.6,453.3 L544.8,453.4 L547.1,453.6 L549.3,453.7 L551.5,453.8 L553.7,454.0 L555.9,454.1 L558.2,454.2 L560.4,454.4 L562.6,454.5 L564.8,454.6 L567.0,454.7 L569.3,454.8 L571.5,454.9 L573.7,455.0 L575.9,455.1 L578.1,455.2 L580.4,455.3 L582.6,455.4 L584.8,455.5 L587.0,455.6 L589.2,455.6 L591.5,455.7 L593.7,455.8 L595.9,455.9 L598.1,455.9 L600.3,456.0 L602.6,456.1 L604.8,456.1 L607.0,456.2 L609.2,456.3 L611.4,456.3 L613.7,456.4 L615.9,456.4 L618.1,456.5 L620.3,456.5 L622.6,456.6 L624.8,456.6 L627.0,456.7 L629.2,456.7 L631.4,456.8 L633.7,456.8 L635.9,456.9 L638.1,456.9 L640.3,456.9 L642.5,457.0 L644.8,457.0 L647.0,457.0 L649.2,457.1 L651.4,457.1 L653.6,457.1 L655.9,457.2 L658.1,457.2 L660.3,457.2 L662.5,457.3 L664.7,457.3 L667.0,457.3 L669.2,457.4 L671.4,457.4 L673.6,457.4 L675.8,457.4" stroke="#EDB120"/>
<path d="M91.9,301.1 L94.1,301.2 L96.3,301.2 L98.5,301.2 L100.7,301.2 L103.0,301.3 L105.2,301.3 L107.4,301.3 L109.6,301.3 L111.8,301.4 L114.1,301.4 L116.3,301.4 L118.5,301.5 L120.7,301.5 L122.9,301.5 L125.2,301.6 L127.4,301.6 L129.6,301.6 L131.8,301.7 L134.0,301.7 L136.3,301.8 L138.5,301.8 L140.7,301.8 L142.9,301.9 L145.1,301.9 L147.4,302.0 L149.6,302.0 L151.8,302.1 L154.0,302.1 L156.3,302.2 L158.5,302.2 L160.7,302.3 L162.9,302.3 L165.1,302.4 L167.4,302.5 L169.6,302.5 L171.8,302.6 L174.0,302.7 L176.2,302.7 L178.5,302.8 L180.7,302.9 L182.9,303.0 L185.1,303.0 L187.3,303.1 L189.6,303.2 L191.8,303.3 L194.0,303.4 L196.2,303.5 L198.4,303.5 L200.7,303.6 L202.9,303.7 L205.1,303.8 L207.3,304.0 L209.5,304.1 L211.8,304.2 L214.0,304.3 L216.2,304.4 L218.4,304.5 L220.6,304.7 L222.9,304.8 L225.1,304.9 L227.3,305.1 L229.5,305.2 L231.7,305.4 L234.0,305.5 L236.2,305.7 L238.4,305.8 L240.6,306.0 L242.9,306.2 L245.1,306.4 L247.3,306.6 L249.5,306.8 L251.7,307.0 L254.0,307.2 L256.2,307.4 L258.4,307.6 L260.6,307.9 L262.8,308.1 L265.1,308.4 L267.3,308.6 L269.5,308.9 L271.7,309.2 L273.9,309.5 L276.2,309.8 L278.4,310.1 L280.6,310.4 L282.8,310.8 L285.0,311.1 L287.3,311.5 L289.5,311.9 L291.7,312.3 L293.9,312.7 L296.1,313.1 L298.4,313.6 L300.6,314.0 L302.8,314.5 L305.0,315.1 L307.2,315.6 L309.5,316.2 L311.7,316.7 L313.9,317.3 L316.1,318.0 L318.3,318.7 L320.6,319.4 L322.8,320.1 L325.0,320.9 L327.2,321.7 L329.4,322.5 L331.7,323.4 L333.9,324.3 L336.1,325.3 L338.3,326.3 L340.6,327.4 L342.8,328.5 L345.0,329.7 L347.2,330.9 L349.4,332.3 L351.7,333.6 L353.9,335.1 L356.1,336.6 L358.3,338.2 L360.5,339.9 L362.8,341.6 L364.2,342.8 L364.9,343.4 L365.0,343.5 L365.5,343.9 L366.1,344.4 L366.7,345.0 L367.2,345.4 L367.4,345.5 L368.0,346.1 L368.6,346.6 L369.2,347.2 L369.4,347.4 L369.8,347.7 L370.4,348.3 L370.9,348.8 L371.5,349.4 L371.6,349.5 L372.1,349.9 L372.7,350.5 L373.2,351.1 L373.8,351.6 L373.9,351.7 L374.4,352.2 L374.9,352.8 L375.5,353.3 L376.0,353.9 L376.1,353.9 L376.6,354.5 L377.1,355.1 L377.7,355.6 L378.2,356.2 L378.3,356.3 L378.7,356.8 L379.3,357.4 L379.8,357.9 L380.3,358.5 L380.5,358.7 L380.9,359.1 L381.4,359.7 L381.9,360.3 L382.4,360.9 L382.7,361.3 L382.9,361.4 L383.4,362.0 L383.9,362.6 L384.4,363.2 L384.9,363.8 L385.0,363.8 L385.4,364.4 L385.9,364.9 L386.4,365.5 L386.9,366.1 L387.2,366.5 L387.3,366.7 L387.8,367.3 L388.3,367.8 L388.8,368.4 L389.2,369.0 L389.4,369.2 L389.7,369.6 L390.2,370.1 L390.6,370.7 L391.1,371.3 L391.6,371.8 L391.6,371.9 L392.0,372.4 L392.5,373.0 L392.9,373.5 L393.4,374.1 L393.8,374.7 L393.8,374.7 L394.3,375.2 L394.7,375.8 L395.1,376.3 L395.6,376.9 L396.0,377.4 L396.1,377.5 L396.4,378.0 L396.9,378.5 L397.3,379.0 L397.7,379.6 L398.1,380.1 L398.3,380.3 L398.6,380.7 L399.0,381.2 L399.4,381.7 L399.8,382.2 L400.2,382.7 L400.5,383.1 L400.6,383.3 L401.0,383.8 L401.5,384.3 L401.9,384.8 L402.3,385.3 L402.7,385.8 L402.7,385.9 L403.1,386.3 L403.5,386.8 L404.9,388.6 L407.2,391.3 L409.4,394.0 L411.6,396.6 L413.8,399.1 L416.0,401.6 L418.3,404.0 L420.5,406.3 L422.7,408.5 L424.9,410.6 L427.1,412.7 L429.4,414.6 L431.6,416.5 L433.8,418.2 L436.0,419.9 L438.3,421.6 L440.5,423.1 L442.7,424.6 L444.9,426.0 L447.1,427.3 L449.4,428.5 L451.6,429.8 L453.8,430.9 L456.0,432.0 L458.2,433.0 L460.5,434.0 L462.7,435.0 L464.9,435.8 L467.1,436.7 L469.3,437.5 L471.6,438.3 L473.8,439.0 L476.0,439.8 L478.2,440.4 L480.4,441.1 L482.7,441.7 L484.9,442.3 L487.1,442.9 L489.3,443.4 L491.5,443.9 L493.8,444.4 L496.0,444.9 L498.2,445.4 L500.4,445.8 L502.6,446.2 L504.9,446.6 L507.1,447.0 L509.3,447.4 L511.5,447.7 L513.7,448.1 L516.0,448.4 L518.2,448.7 L520.4,449.0 L522.6,449.3 L524.8,449.6 L527.1,449.9 L529.3,450.2 L531.5,450.4 L533.7,450.7 L536.0,450.9 L538.2,451.1 L540.4,451.4 L542.6,451.6 L544.8,451.8 L547.1,452.0 L549.3,452.2 L551.5,452.4 L553.7,452.5 L555.9,452.7 L558.2,452.9 L560.4,453.0 L562.6,453.2 L564.8,453.3 L567.0,453.5 L569.3,453.6 L571.5,453.8 L573.7,453.9 L575.9,454.0 L578.1,454.2 L580.4,454.3 L582.6,454.4 L584.8,454.5 L587.0,454.6 L589.2,454.7 L591.5,454.8 L593.7,454.9 L595.9,455.0 L598.1,455.1 L600.3,455.2 L602.6,455.3 L604.8,455.4 L607.0,455.5 L609.2,455.6 L611.4,455.6 L613.7,455.7 L615.9,455.8 L618.1,455.9 L620.3,455.9 L622.6,456.0 L624.8,456.1 L627.0,456.1 L629.2,456.2 L631.4,456.2 L633.7,456.3 L635.9,456.4 L638.1,456.4 L640.3,456.5 L642.5,456.5 L644.8,456.6 L647.0,456.6 L649.2,456.7 L651.4,456.7 L653.6,456.8 L655.9,456.8 L658.1,456.8 L660.3,456.9 L662.5,456.9 L664.7,457.0 L667.0,457.0 L669.2,457.0 L671.4,457.1 L673.6,457.1 L675.8,457.1" stroke="#7E2F8E"/>
</g>
<path d="M114.0,112.6 L154.6,153.1 M179.0,94.0 L220.7,134.1 M236.9,73.6 L277.3,113.7 M288.6,63.4 L341.9,100.2" stroke="#000" stroke-width="3" fill="none"/>
<g class="t">
<text transform="translate(54.07,59.35) scale(1.030,1.080)">0</text>
<text transform="translate(42.95,139.35) scale(1.030,1.080)">-20</text>
<text transform="translate(41.10,219.61) scale(1.030,1.080)">-40</text>
<text transform="translate(55.10,279.65) scale(1.030,1.080)">90</text>
<text transform="translate(64.19,370.30) scale(1.030,1.080)">0</text>
<text transform="translate(42.15,466.55) scale(1.030,1.080)">-90</text>
<text transform="translate(73.59,504.75) scale(1.000,1.080)">10</text>
<text class="s" transform="translate(105.55,489.80) scale(1.000,1.076)">1</text>
<text transform="translate(268.58,504.75) scale(1.000,1.080)">10</text>
<text class="s" transform="translate(300.52,489.80) scale(1.000,1.076)">2</text>
<text transform="translate(463.88,504.75) scale(1.000,1.080)">10</text>
<text class="s" transform="translate(495.27,489.80) scale(1.000,1.076)">3</text>
<text transform="translate(643.38,504.75) scale(1.000,1.080)">10</text>
<text class="s" transform="translate(675.57,489.80) scale(1.000,1.076)">4</text>
<text transform="translate(281.36,537.80) scale(1.021,1.054)">Frequency(rad/s)</text>
<text class="r" transform="translate(22.90,231.58) rotate(-90) scale(1.020,1.024)">Magnitude (dB)</text>
<text class="r" transform="translate(22.90,422.83) rotate(-90) scale(1.020,1.014)">Phase(deg)</text>
<text class="i" transform="translate(115.05,178.60) scale(1.200,0.975) skewX(-6)">λ</text>
<text class="e" transform="translate(130.16,175.25) scale(1.130,0.670)">=</text>
<text transform="translate(149.53,178.35) scale(1.000,1.042)">50</text>
<text class="i" transform="translate(196.75,164.60) scale(1.200,0.975) skewX(-6)">λ</text>
<text class="e" transform="translate(211.86,161.25) scale(1.130,0.670)">=</text>
<text transform="translate(231.99,164.35) scale(1.000,1.042)">100</text>
<text class="i" transform="translate(243.70,138.70) scale(1.200,0.975) skewX(-6)">λ</text>
<text class="e" transform="translate(258.11,135.35) scale(1.130,0.670)">=</text>
<text transform="translate(278.49,138.45) scale(1.000,1.042)">150</text>
<text class="i" transform="translate(331.85,126.80) scale(1.200,0.975) skewX(-6)">λ</text>
<text class="e" transform="translate(346.26,123.45) scale(1.130,0.670)">=</text>
<text transform="translate(365.83,126.55) scale(1.000,1.042)">200</text>
</g>
<rect x="34.5" y="0" width="9.2" height="1.3" rx="0.6" fill="#222"/>
</svg>
</body></html>
